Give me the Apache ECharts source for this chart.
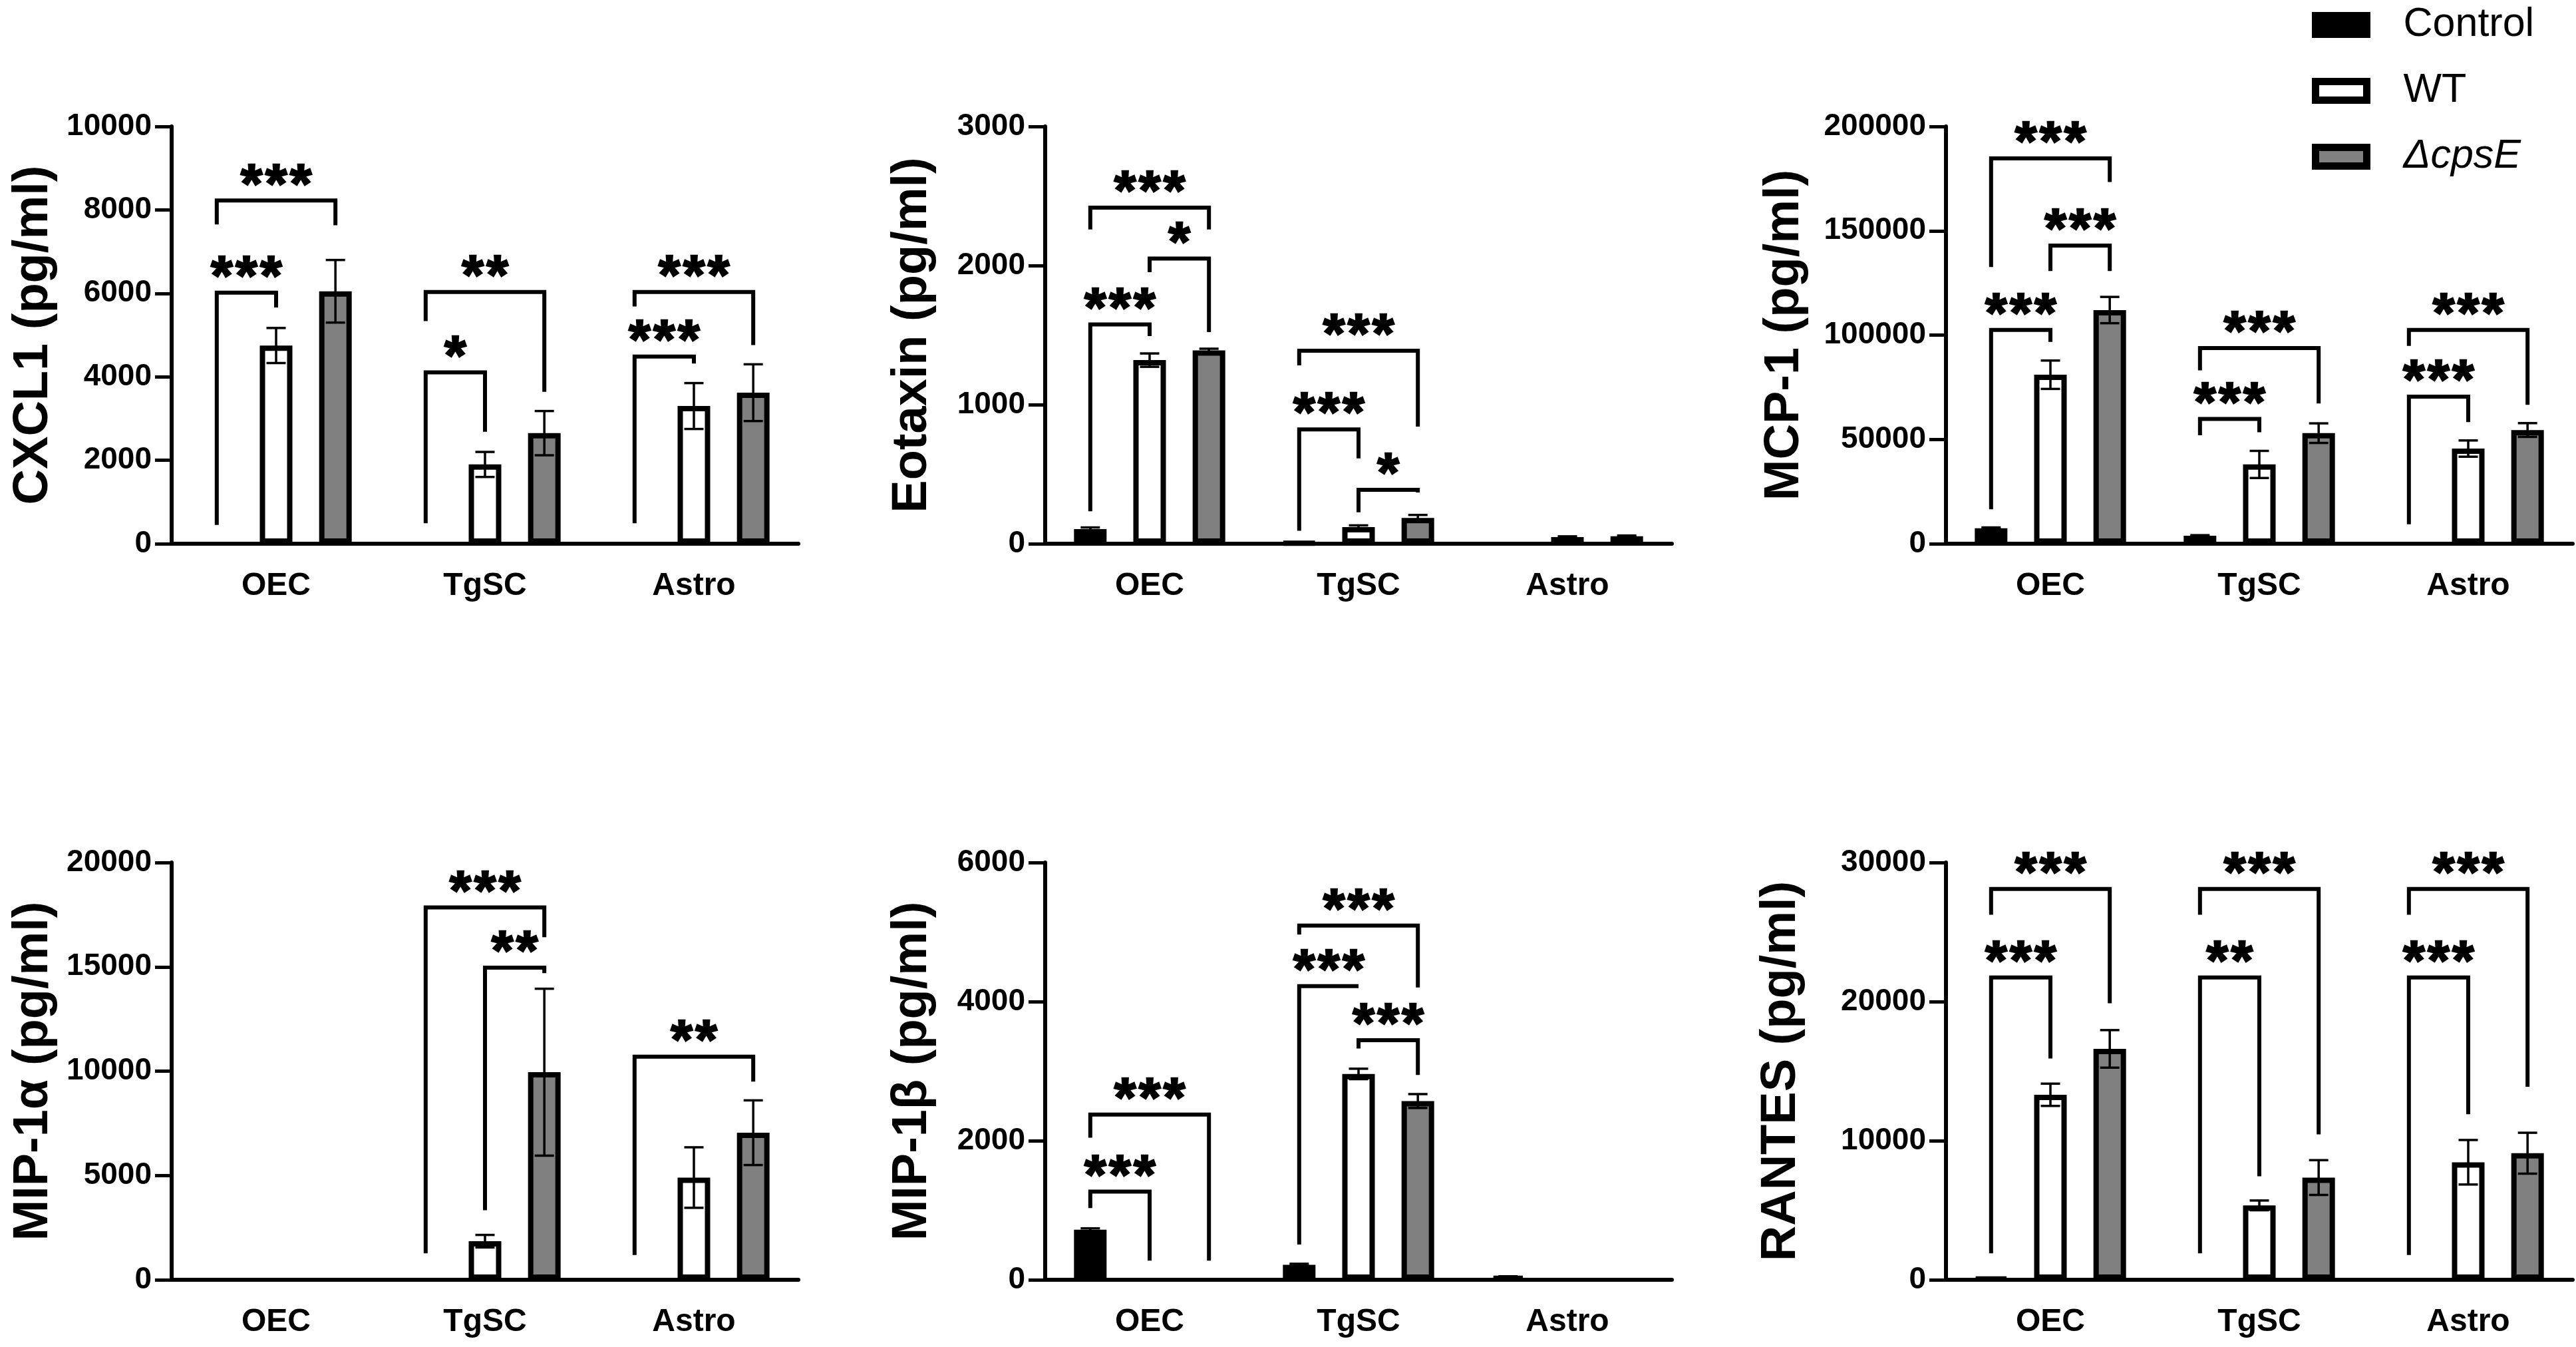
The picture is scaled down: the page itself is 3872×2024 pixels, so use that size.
<!DOCTYPE html>
<html>
<head>
<meta charset="utf-8">
<script src="https://cdn.jsdelivr.net/npm/echarts@6/dist/echarts.min.js"></script>
<style>
html, body { margin: 0; padding: 0; background: #fff; }
#main { width: 3872px; height: 2024px; }
</style>
</head>
<body>
<div id="main"></div>
<script>
var groups = ['OEC', 'TgSC', 'Astro'];
var seriesNames = ['Control', 'WT', 'ΔcpsE'];

// CXCL1
var cxcl1Control = [0, 0, 0];
var cxcl1WT = [4750, 1900, 3300];
var cxcl1Cpse = [6050, 2650, 3620];
var cxcl1ControlErr = [0, 0, 0];
var cxcl1WTErr = [420, 300, 550];
var cxcl1CpseErr = [750, 530, 680];
// bracket rows: [group, from bar, to bar, bracket y, left leg end, right leg end, stars]
var cxcl1Sig = [
  [0, 0, 1, 6015, 450, 5660, 3],
  [0, 0, 2, 8224, 7650, 7630, 3],
  [1, 0, 1, 4108, 490, 2684, 1],
  [1, 0, 2, 6031, 5335, 3641, 2],
  [2, 0, 1, 4484, 490, 4320, 3],
  [2, 0, 2, 6031, 5687, 4762, 3]
];

// Eotaxin
var eotaxinControl = [105, 7, 0];
var eotaxinWT = [1320, 120, 48];
var eotaxinCpse = [1390, 185, 54];
var eotaxinControlErr = [12, 0, 0];
var eotaxinWTErr = [48, 12, 5];
var eotaxinCpseErr = [12, 22, 5];
var eotaxinSig = [
  [0, 0, 1, 1576, 233, 1493, 3],
  [0, 1, 2, 2050, 1952, 1522, 1],
  [0, 0, 2, 2416, 2259, 2259, 3],
  [1, 0, 1, 822, 93, 614, 3],
  [1, 1, 2, 388, 226, 368, 1],
  [1, 0, 2, 1387, 1282, 842, 3]
];

// MCP-1
var mcp1Control = [7400, 3800, 0];
var mcp1WT = [81000, 38000, 45600];
var mcp1Cpse = [112000, 53000, 54500];
var mcp1ControlErr = [400, 300, 0];
var mcp1WTErr = [6800, 6500, 3900];
var mcp1CpseErr = [6300, 4700, 3300];
var mcp1Sig = [
  [0, 0, 1, 102500, 16500, 96700, 3],
  [0, 1, 2, 142900, 130700, 130700, 3],
  [0, 0, 2, 184700, 132600, 173400, 3],
  [1, 0, 1, 59800, 52000, 53400, 3],
  [1, 0, 2, 93800, 83100, 67200, 3],
  [2, 0, 1, 70500, 9300, 58300, 3],
  [2, 0, 2, 102500, 94800, 66600, 3]
];

// MIP-1α
var mip1aControl = [0, 0, 0];
var mip1aWT = [0, 1850, 4900];
var mip1aCpse = [0, 9950, 7050];
var mip1aControlErr = [0, 0, 0];
var mip1aWTErr = [0, 300, 1450];
var mip1aCpseErr = [0, 4000, 1550];
var mip1aSig = [
  [1, 0, 2, 17850, 1270, 16420, 3],
  [1, 1, 2, 14960, 3330, 14700, 2],
  [2, 0, 2, 10690, 1190, 9500, 2]
];

// MIP-1β
var mip1bControl = [720, 215, 45];
var mip1bWT = [0, 2960, 0];
var mip1bCpse = [0, 2570, 0];
var mip1bControlErr = [20, 15, 5];
var mip1bWTErr = [0, 75, 0];
var mip1bCpseErr = [0, 100, 0];
var mip1bSig = [
  [0, 0, 1, 1268, 1031, 276, 3],
  [0, 0, 2, 2375, 2043, 276, 3],
  [1, 0, 1, 4223, 508, 4223, 3],
  [1, 1, 2, 3444, 3325, 2945, 3],
  [1, 0, 2, 5093, 4964, 4204, 3]
];

// RANTES
var rantesControl = [120, 0, 0];
var rantesWT = [13300, 5350, 8450];
var rantesCpse = [16600, 7350, 9100];
var rantesControlErr = [0, 0, 0];
var rantesWTErr = [800, 350, 1600];
var rantesCpseErr = [1350, 1250, 1470];
var rantesSig = [
  [0, 0, 1, 21730, 1900, 15910, 3],
  [0, 0, 2, 28100, 26250, 19880, 3],
  [1, 0, 1, 21730, 1900, 7440, 2],
  [1, 0, 2, 28100, 26250, 10450, 3],
  [2, 0, 1, 21730, 1780, 11900, 3],
  [2, 0, 2, 28100, 26250, 13870, 3]
];

var panels = [
  {name: 'CXCL1 (pg/ml)', max: 10000, step: 2000, gap: 170, left: 258, top: 190,
   vals: [cxcl1Control, cxcl1WT, cxcl1Cpse], errs: [cxcl1ControlErr, cxcl1WTErr, cxcl1CpseErr], sig: cxcl1Sig},
  {name: 'Eotaxin (pg/ml)', max: 3000, step: 1000, gap: 162, left: 1571, top: 190,
   vals: [eotaxinControl, eotaxinWT, eotaxinCpse], errs: [eotaxinControlErr, eotaxinWTErr, eotaxinCpseErr], sig: eotaxinSig},
  {name: 'MCP-1 (pg/ml)', max: 200000, step: 50000, gap: 205, left: 2925, top: 190,
   vals: [mcp1Control, mcp1WT, mcp1Cpse], errs: [mcp1ControlErr, mcp1WTErr, mcp1CpseErr], sig: mcp1Sig},
  {name: 'MIP-1α (pg/ml)', max: 20000, step: 5000, gap: 170, left: 258, top: 1296,
   vals: [mip1aControl, mip1aWT, mip1aCpse], errs: [mip1aControlErr, mip1aWTErr, mip1aCpseErr], sig: mip1aSig},
  {name: 'MIP-1β (pg/ml)', max: 6000, step: 2000, gap: 162, left: 1571, top: 1296,
   vals: [mip1bControl, mip1bWT, mip1bCpse], errs: [mip1bControlErr, mip1bWTErr, mip1bCpseErr], sig: mip1bSig},
  {name: 'RANTES (pg/ml)', max: 30000, step: 10000, gap: 210, left: 2925, top: 1296,
   vals: [rantesControl, rantesWT, rantesCpse], errs: [rantesControlErr, rantesWTErr, rantesCpseErr], sig: rantesSig}
];

var FONT = '"Liberation Sans", Arial, sans-serif';
var BAR_W = 49;
var BAR_GAP = 0.82;
var STEP = BAR_W * (1 + BAR_GAP);
var CAP = 29;
var STAR_STEP = 37;
var STAR_OFFSET = 20;
var fills = ['#000000', '#ffffff', '#808080'];

function errorRender(params, api) {
  var c = api.value(0), g = api.value(1), m = api.value(2), e = api.value(3);
  var cx = api.coord([c, 0])[0] + (g - 1) * STEP;
  var yTop = api.coord([c, m + e])[1];
  var yBot = api.coord([c, m - e])[1];
  var hw = CAP / 2;
  var st = {stroke: '#000', lineWidth: 3.5, fill: 'none'};
  return {type: 'group', children: [
    {type: 'line', shape: {x1: cx, y1: yTop, x2: cx, y2: yBot}, style: st},
    {type: 'line', shape: {x1: cx - hw, y1: yTop, x2: cx + hw, y2: yTop}, style: st},
    {type: 'line', shape: {x1: cx - hw, y1: yBot, x2: cx + hw, y2: yBot}, style: st}
  ]};
}

function sigRender(params, api) {
  var c = api.value(0);
  var base = api.coord([c, 0])[0];
  var x1 = base + (api.value(1) - 1) * STEP;
  var x2 = base + (api.value(2) - 1) * STEP;
  var yB = api.coord([c, api.value(3)])[1];
  var yL = api.coord([c, api.value(4)])[1];
  var yR = api.coord([c, api.value(5)])[1];
  var n = api.value(6);
  var kids = [{
    type: 'polyline',
    shape: {points: [[x1, yL], [x1, yB], [x2, yB], [x2, yR]]},
    style: {stroke: '#000', lineWidth: 6, fill: 'none', lineJoin: 'miter'}
  }];
  var mid = (x1 + x2) / 2;
  for (var i = 0; i < n; i++) {
    kids.push({
      type: 'text',
      x: mid + (i - (n - 1) / 2) * STAR_STEP,
      y: yB - STAR_OFFSET,
      style: {text: '*', fontSize: 84, fontWeight: 'bold', fontFamily: FONT,
              fill: '#000', stroke: '#000', lineWidth: 2.5,
              align: 'center', verticalAlign: 'middle'}
    });
  }
  return {type: 'group', children: kids};
}

var grids = [], xAxes = [], yAxes = [], series = [];
panels.forEach(function (p, k) {
  grids.push({left: p.left, top: p.top, width: 942, height: 627});
  xAxes.push({
    type: 'category', gridIndex: k, data: groups,
    axisLine: {lineStyle: {color: '#000', width: 6}},
    axisTick: {alignWithLabel: true, length: 24, lineStyle: {color: '#000', width: 4}},
    axisLabel: {color: '#000', fontSize: 48, fontWeight: 'bold', fontFamily: FONT, margin: 40}
  });
  yAxes.push({
    type: 'value', gridIndex: k, min: 0, max: p.max, interval: p.step,
    name: p.name, nameLocation: 'middle', nameRotate: 90, nameGap: p.gap,
    nameTextStyle: {color: '#000', fontSize: 74, fontWeight: 'bold', fontFamily: FONT},
    splitLine: {show: false},
    axisLine: {show: true, lineStyle: {color: '#000', width: 6}},
    axisTick: {show: true, length: 25, lineStyle: {color: '#000', width: 5}},
    axisLabel: {color: '#000', fontSize: 46, fontWeight: 'bold', fontFamily: FONT, margin: 30,
                formatter: function (v) { return String(v); }}
  });
  var errData = [];
  p.vals.forEach(function (arr, g) {
    series.push({
      type: 'bar', name: seriesNames[g], xAxisIndex: k, yAxisIndex: k,
      barWidth: BAR_W, barGap: (BAR_GAP * 100) + '%',
      itemStyle: {color: fills[g], borderColor: '#000', borderWidth: 8},
      data: arr.map(function (v) {
        return v === 0 ? {value: v, itemStyle: {borderWidth: 0}} : v;
      })
    });
    arr.forEach(function (v, c) {
      if (p.errs[g][c] > 0) errData.push([c, g, v, p.errs[g][c]]);
    });
  });
  series.push({type: 'custom', xAxisIndex: k, yAxisIndex: k, z: 5, renderItem: errorRender, data: errData});
  series.push({type: 'custom', xAxisIndex: k, yAxisIndex: k, z: 6, renderItem: sigRender, data: p.sig});
});

var chart = echarts.init(document.getElementById('main'));
chart.setOption({
  backgroundColor: '#fff',
  animation: false,
  legend: {
    orient: 'vertical', left: 3475, top: 7, padding: 0,
    itemWidth: 77, itemHeight: 28, itemGap: 38, icon: 'rect',
    itemStyle: {borderColor: '#000', borderWidth: 11},
    textStyle: {color: '#000', fontSize: 61, fontFamily: FONT, lineHeight: 61, padding: [0, 0, 0, 50]},
    data: ['Control', 'WT', {name: 'ΔcpsE', textStyle: {fontStyle: 'italic'}}]
  },
  grid: grids,
  xAxis: xAxes,
  yAxis: yAxes,
  series: series
});
</script>
</body>
</html>
